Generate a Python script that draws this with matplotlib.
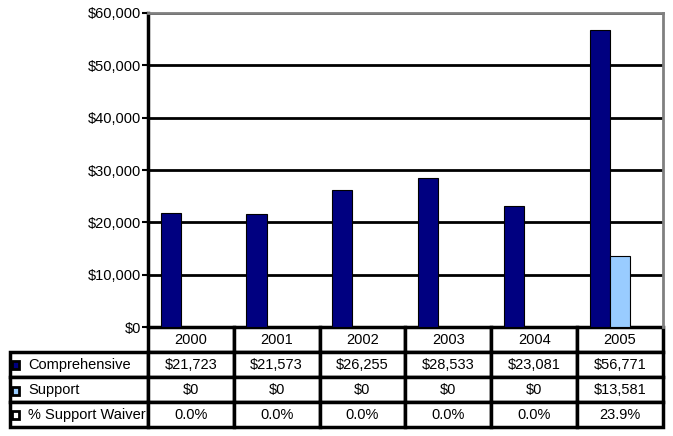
import numpy as np
import matplotlib.pyplot as plt
from matplotlib.patches import Rectangle

plt.rcParams['font.family'] = ['Liberation Sans', 'DejaVu Sans']

# data
years = ['2000', '2001', '2002', '2003', '2004', '2005']
comprehensive = [21723, 21573, 26255, 28533, 23081, 56771]
support = [0, 0, 0, 0, 0, 13581]
waiver_pct = [0.0, 0.0, 0.0, 0.0, 0.0, 23.9]
series_names = ['Comprehensive', 'Support', '% Support Waiver']

navy = '#000080'
light_blue = '#99CCFF'

fig = plt.figure(figsize=(6.73, 4.36), dpi=100)
ax = fig.add_axes([148 / 673, 1 - 327 / 436, 515 / 673, 314 / 436])

x = np.arange(len(years))
w = 0.235
ax.bar(x - w, comprehensive, w, color=navy, edgecolor='black', linewidth=0.8, zorder=3)
ax.bar(x, support, w, color=light_blue, edgecolor='black', linewidth=0.8, zorder=3)
ax.bar(x + w, waiver_pct, w, color='white', edgecolor='none', zorder=3)

ax.set_xlim(-0.5, len(years) - 0.5)
ax.set_ylim(0, 60000)
ax.set_yticks(np.arange(0, 60001, 10000))
ax.set_yticklabels(['${:,}'.format(v) for v in range(0, 60001, 10000)], fontsize=10.5)
ax.set_xticks([])
ax.yaxis.grid(True, color='black', linewidth=2, zorder=1)
ax.set_axisbelow(True)
ax.tick_params(axis='y', length=4, width=1.5, pad=1)

ax.spines['left'].set_linewidth(2.5)
ax.spines['left'].set_color('black')
ax.spines['top'].set_color('#808080')
ax.spines['top'].set_linewidth(2)
ax.spines['right'].set_color('#808080')
ax.spines['right'].set_linewidth(2)
ax.spines['bottom'].set_visible(False)

# data table under the chart
comp_txt = ['${:,}'.format(v) for v in comprehensive]
supp_txt = ['${:,}'.format(v) for v in support]
pct_txt = ['{:.1f}%'.format(v) for v in waiver_pct]
cell_text = [[series_names[0]] + comp_txt,
             [series_names[1]] + supp_txt,
             [series_names[2]] + pct_txt]
col_labels = [''] + years

tw = 653.0
col_widths = [138 / tw] + [86 / tw] * len(years)
tbl = ax.table(cellText=cell_text, colLabels=col_labels, colWidths=col_widths,
               cellLoc='center', bbox=[-138 / 515, -100 / 314, 653 / 515, 100 / 314])
tbl.auto_set_font_size(False)
tbl.set_fontsize(10.5)
for (r, c), cell in tbl.get_celld().items():
    cell.set_linewidth(2.5)
    cell.set_edgecolor('black')
    if r == 0 and c == 0:
        cell.visible_edges = ''
    if c == 0 and r > 0:
        cell.get_text().set_horizontalalignment('left')
        cell.PAD = 0.13

# legend keys in the row labels
key_fill = [navy, light_blue, 'white']
row_mid = [365, 390.5, 415]
for fill, ym in zip(key_fill, row_mid):
    fig.patches.append(Rectangle((12 / 673, 1 - (ym + 4) / 436), 7 / 673, 8 / 436,
                                 transform=fig.transFigure, facecolor=fill,
                                 edgecolor='black', linewidth=2))

fig.savefig('out.png', dpi=100)
